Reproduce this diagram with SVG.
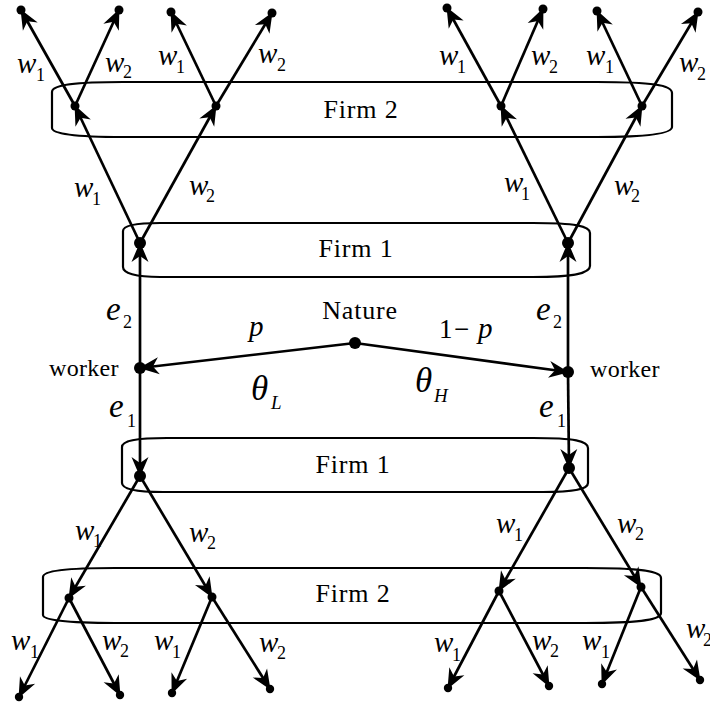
<svg xmlns="http://www.w3.org/2000/svg" width="710" height="702" viewBox="0 0 710 702">
<style>
.box{fill:none;stroke:#000;stroke-width:2.2}
.edge{stroke:#000;stroke-width:2.7;fill:none;marker-end:url(#ah)}
.lbl{font-family:"Liberation Serif","Times New Roman",serif;font-size:26px;letter-spacing:0.8px;fill:#000;text-anchor:middle}
.wk{font-family:"Liberation Serif","Times New Roman",serif;font-size:24px;letter-spacing:0.3px;fill:#000}
.v{font-family:"Liberation Serif","Times New Roman",serif;font-style:italic;font-size:29px;fill:#000}
.e{font-family:"Liberation Serif","Times New Roman",serif;font-style:italic;font-size:33px;fill:#000}
.th{font-family:"Liberation Serif","Times New Roman",serif;font-style:italic;font-size:35px;fill:#000}
.sub{font-size:18px;font-style:normal}
.subi{font-size:19px;font-style:italic}
.num{font-family:"Liberation Serif","Times New Roman",serif;font-size:27px;fill:#000}
</style>
<defs>
<marker id="ah" markerUnits="userSpaceOnUse" viewBox="-21 -10 23 20" refX="0" refY="0" markerWidth="23" markerHeight="20" orient="auto">
<path d="M1,0 L-19,-8.5 L-13,0 L-19,8.5 Z" fill="#000"/>
</marker>
</defs>

<g id="firm2-top">
<path class="box" d="M123,82 L597,82 C652,82 672,85 672,93 L672,127 C672,133 652,137 597,137 L123,137 C75,137 52,134 52,128 L52,92 C52,85 75,82 123,82 Z"/>
<text class="lbl" x="361" y="118">Firm 2</text>
</g>
<g id="firm1-top">
<path class="box" d="M160,223 L533,223 C575,223 590,226 590,233 L590,266 C590,273 575,277 533,277 L160,277 C135,277 123,273 123,267 L123,231 C123,226 135,223 160,223 Z"/>
<text class="lbl" x="356" y="257">Firm 1</text>
</g>
<g id="firm1-bottom">
<path class="box" d="M167,438 L533,438 C575,438 588,441 588,448 L588,483 C588,489 575,492 543,492 L163,492 C135,492 122,489 122,483 L122,447 C122,441 135,438 167,438 Z"/>
<text class="lbl" x="353" y="473">Firm 1</text>
</g>
<g id="firm2-bottom">
<path class="box" d="M115,568 L585,568 C640,568 661,571 661,578 L661,613 C661,620 640,623 585,623 L115,623 C65,623 43,620 43,615 L43,577 C43,571 65,568 115,568 Z"/>
<text class="lbl" x="353" y="602">Firm 2</text>
</g>

<g id="connectors">
<line class="edge" x1="75" y1="106" x2="21" y2="10"/>
<line class="edge" x1="75" y1="106" x2="119" y2="10"/>
<line class="edge" x1="216" y1="106" x2="171" y2="12"/>
<line class="edge" x1="216" y1="106" x2="272" y2="13"/>
<line class="edge" x1="501" y1="106" x2="447" y2="8"/>
<line class="edge" x1="501" y1="106" x2="543" y2="9"/>
<line class="edge" x1="642" y1="106" x2="597" y2="11"/>
<line class="edge" x1="642" y1="106" x2="698" y2="12"/>
<line class="edge" x1="140" y1="243" x2="75" y2="106"/>
<line class="edge" x1="140" y1="243" x2="216" y2="106"/>
<line class="edge" x1="568" y1="243" x2="501" y2="106"/>
<line class="edge" x1="568" y1="243" x2="642" y2="106"/>
<line class="edge" x1="140" y1="368" x2="140" y2="243"/>
<line class="edge" x1="568" y1="372" x2="568" y2="243"/>
<line class="edge" x1="140" y1="368" x2="140" y2="476"/>
<line class="edge" x1="568" y1="372" x2="569" y2="468"/>
<line class="edge" x1="355" y1="343" x2="140" y2="368"/>
<line class="edge" x1="355" y1="343" x2="568" y2="372"/>
<line class="edge" x1="140" y1="476" x2="69" y2="598"/>
<line class="edge" x1="140" y1="476" x2="212" y2="597"/>
<line class="edge" x1="569" y1="468" x2="499" y2="591"/>
<line class="edge" x1="569" y1="468" x2="641" y2="587"/>
<line class="edge" x1="69" y1="598" x2="19" y2="697"/>
<line class="edge" x1="69" y1="598" x2="120" y2="695"/>
<line class="edge" x1="212" y1="597" x2="172" y2="693"/>
<line class="edge" x1="212" y1="597" x2="270" y2="689"/>
<line class="edge" x1="499" y1="591" x2="448" y2="688"/>
<line class="edge" x1="499" y1="591" x2="549" y2="686"/>
<line class="edge" x1="641" y1="587" x2="602" y2="684"/>
<line class="edge" x1="641" y1="587" x2="700" y2="680"/>
</g>

<g id="nature">
<circle cx="355" cy="343" r="6"/>
<text class="lbl" x="360" y="319">Nature</text>
</g>
<g id="worker-L">
<circle cx="140" cy="368" r="6"/>
<text class="wk" x="49" y="376">worker</text>
</g>
<g id="worker-H">
<circle cx="568" cy="372" r="6"/>
<text class="wk" x="590" y="377">worker</text>
</g>
<g id="firm1-nodes">
<circle cx="140" cy="243" r="6"/>
<circle cx="568" cy="243" r="6"/>
<circle cx="140" cy="476" r="6"/>
<circle cx="569" cy="468" r="6"/>
</g>
<g id="firm2-nodes">
<circle cx="75" cy="106" r="4.5"/>
<circle cx="216" cy="106" r="4.5"/>
<circle cx="501" cy="106" r="4.5"/>
<circle cx="642" cy="106" r="4.5"/>
<circle cx="69" cy="598" r="4.5"/>
<circle cx="212" cy="597" r="4.5"/>
<circle cx="499" cy="591" r="4.5"/>
<circle cx="641" cy="587" r="4.5"/>
</g>
<g id="terminals">
<circle cx="21" cy="10" r="4.5"/>
<circle cx="119" cy="10" r="4.5"/>
<circle cx="171" cy="12" r="4.5"/>
<circle cx="272" cy="13" r="4.5"/>
<circle cx="447" cy="8" r="4.5"/>
<circle cx="543" cy="9" r="4.5"/>
<circle cx="597" cy="11" r="4.5"/>
<circle cx="698" cy="12" r="4.5"/>
<circle cx="19" cy="697" r="4.2"/>
<circle cx="120" cy="695" r="4.2"/>
<circle cx="172" cy="693" r="4.2"/>
<circle cx="270" cy="689" r="4.2"/>
<circle cx="448" cy="688" r="4.2"/>
<circle cx="549" cy="686" r="4.2"/>
<circle cx="602" cy="684" r="4.2"/>
<circle cx="700" cy="680" r="4.2"/>
</g>

<g id="labels">
<text class="v" x="17" y="73">w<tspan class="sub" x="36" y="81">1</tspan></text>
<text class="v" x="105" y="72">w<tspan class="sub" x="123" y="78">2</tspan></text>
<text class="v" x="158" y="65">w<tspan class="sub" x="176" y="73">1</tspan></text>
<text class="v" x="258" y="63">w<tspan class="sub" x="277" y="71">2</tspan></text>
<text class="v" x="439" y="65">w<tspan class="sub" x="457" y="73">1</tspan></text>
<text class="v" x="531" y="65">w<tspan class="sub" x="549" y="73">2</tspan></text>
<text class="v" x="586" y="65">w<tspan class="sub" x="605" y="73">1</tspan></text>
<text class="v" x="679" y="72">w<tspan class="sub" x="697" y="80">2</tspan></text>

<text class="v" x="74" y="197">w<tspan class="sub" x="92" y="205">1</tspan></text>
<text class="v" x="189" y="195">w<tspan class="sub" x="206" y="202">2</tspan></text>
<text class="v" x="504" y="192">w<tspan class="sub" x="521" y="200">1</tspan></text>
<text class="v" x="614" y="195">w<tspan class="sub" x="631" y="202">2</tspan></text>

<text class="e" x="106" y="320">e<tspan class="sub" x="123" y="328">2</tspan></text>
<text class="e" x="109" y="417">e<tspan class="sub" x="127" y="427">1</tspan></text>
<text class="e" x="536" y="320">e<tspan class="sub" x="553" y="328">2</tspan></text>
<text class="e" x="539" y="417">e<tspan class="sub" x="557" y="427">1</tspan></text>

<text class="v" x="249" y="336">p</text>
<text class="num" x="439" y="338">1<tspan x="454">−</tspan></text>
<text class="v" x="478" y="338">p</text>
<text class="th" x="251" y="400">θ<tspan class="subi" x="271" y="409">L</tspan></text>
<text class="th" x="415" y="392">θ<tspan class="subi" x="434" y="402">H</tspan></text>

<text class="v" x="75" y="540">w<tspan class="sub" x="93" y="547">1</tspan></text>
<text class="v" x="189" y="542">w<tspan class="sub" x="207" y="549">2</tspan></text>
<text class="v" x="496" y="533">w<tspan class="sub" x="514" y="541">1</tspan></text>
<text class="v" x="617" y="533">w<tspan class="sub" x="635" y="540">2</tspan></text>

<text class="v" x="11" y="650">w<tspan class="sub" x="30" y="658">1</tspan></text>
<text class="v" x="102" y="650">w<tspan class="sub" x="120" y="657">2</tspan></text>
<text class="v" x="154" y="650">w<tspan class="sub" x="172" y="658">1</tspan></text>
<text class="v" x="259" y="652">w<tspan class="sub" x="277" y="659">2</tspan></text>
<text class="v" x="434" y="652">w<tspan class="sub" x="452" y="661">1</tspan></text>
<text class="v" x="532" y="650">w<tspan class="sub" x="550" y="657">2</tspan></text>
<text class="v" x="582" y="650">w<tspan class="sub" x="601" y="658">1</tspan></text>
<text class="v" x="686" y="638">w<tspan class="sub" x="703" y="646">2</tspan></text>
</g>
</svg>
